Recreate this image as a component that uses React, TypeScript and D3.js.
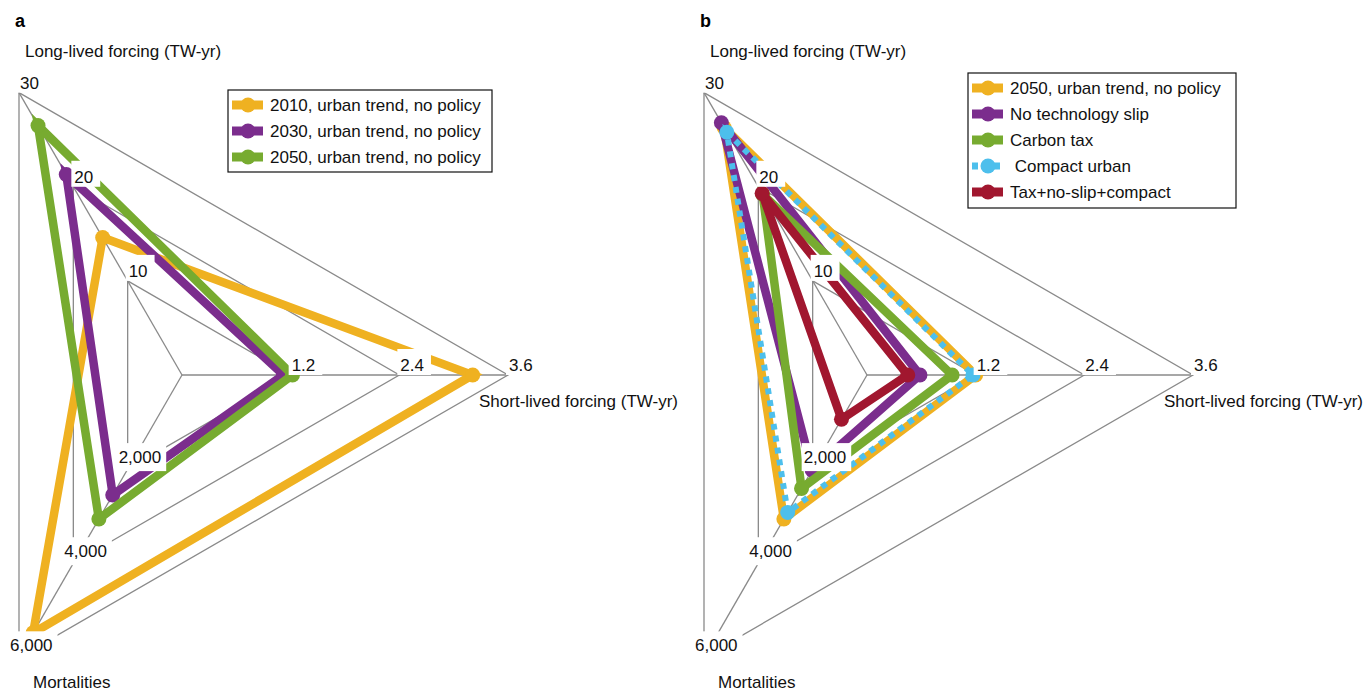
import React from "react";
import * as d3 from "d3";

// ---------- data ----------
const axisTitles = ["Long-lived forcing (TW-yr)", "Short-lived forcing (TW-yr)", "Mortalities"];
const axisMax = [30, 3.6, 6000];
const longTicks = [10, 20, 30];
const shortTicks = [1.2, 2.4, 3.6];
const mortTicks = [2000, 4000, 6000];

// values: [long-lived, short-lived, mortalities]
const a2010 = [14.6, 3.21, 5480];
const a2030 = [21.3, 1.12, 2550];
const a2050 = [26.5, 1.22, 3060];

const bNoPolicy = [26.3, 1.2, 3060];
const bNoSlip = [26.8, 0.585, 2020];
const bCarbonTax = [19.2, 0.94, 2410];
const bCompact = [25.8, 1.17, 2920];
const bCombined = [19.3, 0.45, 940];

const labelsA = ["2010, urban trend, no policy", "2030, urban trend, no policy", "2050, urban trend, no policy"];
const labelsB = ["2050, urban trend, no policy", "No technology slip", "Carbon tax", " Compact urban", "Tax+no-slip+compact"];

const ORANGE = "#efb121";
const PURPLE = "#7b2d8d";
const GREEN = "#77ab30";
const BLUE = "#4dbfec";
const RED = "#a1172f";

const FONT = "'Liberation Sans', Arial, Helvetica, sans-serif";
const R = 326;
const angles = [120, 0, 240].map((a) => (a * Math.PI) / 180);

type Series = { values: number[]; color: string; dotted?: boolean; label: string };

const scales = axisMax.map((m) => d3.scaleLinear().domain([0, m]).range([0, R]));

function pt(cx: number, cy: number, axis: number, v: number): [number, number] {
  const r = scales[axis](v);
  return [cx + r * Math.cos(angles[axis]), cy - r * Math.sin(angles[axis])];
}

const fmt = d3.format(",");
function textWidth(s: string, size: number) {
  let w = 0;
  for (const c of s) {
    if (c === "," || c === ".") w += 0.278;
    else w += 0.556;
  }
  return w * size;
}

function Radar({ cx, cy, series, panel, legend }: { cx: number; cy: number; series: Series[]; panel: string; legend: { x: number; y: number; w: number; h: number; rowY: number[] } }) {
  const line = d3.line<[number, number]>().curve(d3.curveLinearClosed);
  const grid = "#8a8a8a";
  const tickSets = [longTicks, shortTicks, mortTicks];
  const fs = 17;
  return (
    <g>
      <text x={cx - 167} y={27} fontFamily={FONT} fontSize={18} fontWeight="bold">{panel}</text>
      {/* grid triangles */}
      {[1, 2, 3].map((k) => {
        const pts = [0, 1, 2].map((ax) => pt(cx, cy, ax, (axisMax[ax] * k) / 3));
        return <path key={k} d={line(pts) || ""} fill="none" stroke={grid} strokeWidth={1.3} />;
      })}
      {[0, 1, 2].map((ax) => {
        const [x, y] = pt(cx, cy, ax, axisMax[ax]);
        return <line key={ax} x1={cx} y1={cy} x2={x} y2={y} stroke={grid} strokeWidth={1.3} />;
      })}
      {/* series */}
      {series.map((s, i) => {
        const pts = s.values.map((v, ax) => pt(cx, cy, ax, v));
        return (
          <g key={i}>
            <path d={line(pts) || ""} fill="none" stroke={s.color} strokeWidth={s.dotted ? 6 : 8.5}
              strokeDasharray={s.dotted ? "6 6" : undefined} strokeLinejoin="miter" />
            {pts.map((p, j) => (
              <circle key={j} cx={p[0]} cy={p[1]} r={7.5} fill={s.color} />
            ))}
          </g>
        );
      })}
      {/* tick labels with white boxes */}
      {tickSets.map((ticks, ax) =>
        ticks.map((t) => {
          const [vx, vy] = pt(cx, cy, ax, t);
          const s = ax === 2 ? fmt(t) : ax === 1 ? t.toFixed(1) : String(t);
          const w = textWidth(s, fs);
          let tx: number, by: number, bx0: number, bx1: number, by0: number, by1: number;
          if (ax === 2) {
            tx = vx - 9; by = vy - 6;
            bx0 = tx - 2; bx1 = tx + w + 5; by0 = by - 20; by1 = by + 8;
          } else {
            tx = vx + 1; by = vy - 4;
            bx0 = tx - 3; bx1 = tx + w + 7; by0 = vy - 26; by1 = vy;
          }
          return (
            <g key={`${ax}-${t}`}>
              <rect x={bx0} y={by0} width={bx1 - bx0} height={by1 - by0} fill="#fff" />
              <text x={tx} y={by} fontFamily={FONT} fontSize={fs} fill="#111">{s}</text>
            </g>
          );
        })
      )}
      {/* axis titles */}
      <text x={cx - 157} y={57} fontFamily={FONT} fontSize={fs} fill="#111">{axisTitles[0]}</text>
      <text x={cx + 297} y={407} fontFamily={FONT} fontSize={fs} fill="#111">{axisTitles[1]}</text>
      <text x={cx - 149} y={688} fontFamily={FONT} fontSize={fs} fill="#111">{axisTitles[2]}</text>
      {/* legend */}
      <rect x={legend.x} y={legend.y} width={legend.w} height={legend.h} fill="#fff" stroke="#111" strokeWidth={1.2} />
      {series.map((s, i) => {
        const y = legend.rowY[i];
        const x0 = legend.x + 4;
        return (
          <g key={i}>
            <line x1={x0} x2={x0 + 31} y1={y} y2={y} stroke={s.color} strokeWidth={s.dotted ? 7 : 9}
              strokeDasharray={s.dotted ? "6 5" : undefined} />
            <circle cx={x0 + 16} cy={y} r={7.5} fill={s.color} />
            <text x={x0 + 38} y={y + 6} fontFamily={FONT} fontSize={fs} fill="#111" style={{ whiteSpace: "pre" }}>{s.label}</text>
          </g>
        );
      })}
    </g>
  );
}

export default function App() {
  const seriesA: Series[] = [
    { values: a2010, color: ORANGE, label: labelsA[0] },
    { values: a2030, color: PURPLE, label: labelsA[1] },
    { values: a2050, color: GREEN, label: labelsA[2] },
  ];
  const seriesB: Series[] = [
    { values: bNoPolicy, color: ORANGE, label: labelsB[0] },
    { values: bNoSlip, color: PURPLE, label: labelsB[1] },
    { values: bCarbonTax, color: GREEN, label: labelsB[2] },
    { values: bCompact, color: BLUE, dotted: true, label: labelsB[3] },
    { values: bCombined, color: RED, label: labelsB[4] },
  ];
  // draw order for B: orange, purple, green, blue, red (legend order same)
  return (
    <svg width={1367} height={691} style={{ position: "absolute", left: 0, top: 0, background: "#fff" }}>
      <Radar cx={182} cy={375} series={seriesA} panel="a" legend={{ x: 228, y: 90, w: 264, h: 82, rowY: [105, 131, 157] }} />
      <Radar cx={867} cy={375} series={seriesB} panel="b" legend={{ x: 968, y: 73, w: 268, h: 135, rowY: [88, 114, 140, 166, 192] }} />
    </svg>
  );
}
